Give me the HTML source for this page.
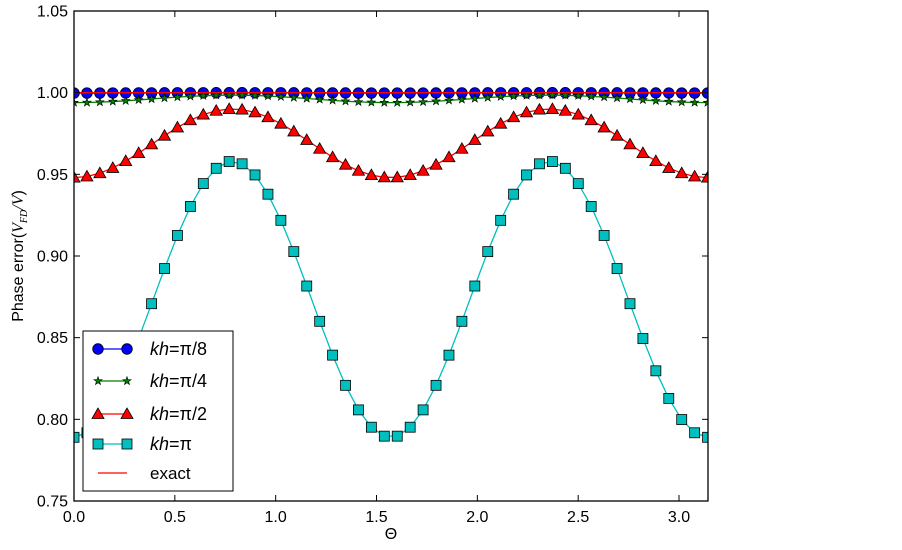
<!DOCTYPE html>
<html><head><meta charset="utf-8"><style>
body{margin:0;background:#fff;}
svg text{font-family:"Liberation Sans",sans-serif;}
</style></head><body>
<svg id="s" width="902" height="545" xmlns="http://www.w3.org/2000/svg"></svg>
<script>
const s=document.getElementById('s');
const L=74,R=708,T=11,B=501;
const X=t=>L+t*201.67, Y=v=>T+(1.05-v)*1633.3;
let h='';
const N=50;
function pts(mid,amp){let a=[];for(let i=0;i<N;i++){let t=Math.PI*i/(N-1);a.push([X(t),Y(mid-amp*Math.cos(4*t))]);}return a;}
const series=[
 {p:pts(0.99985,0.0001),c:'#0000ff',m:'o'},
 {p:pts(0.9962,0.0023),c:'#007f00',m:'*'},
 {p:pts(0.969,0.021),c:'#ff0000',m:'^'},
 {p:pts(0.8735,0.0845),c:'#00bfbf',m:'s'}];
function marker(x,y,m,c){
 if(m=='o')return `<circle cx="${x}" cy="${y}" r="5.3" fill="${c}" stroke="#000" stroke-width="0.8"/>`;
 if(m=='s')return `<rect x="${x-5}" y="${y-5}" width="10" height="10" fill="${c}" stroke="#000" stroke-width="0.8"/>`;
 if(m=='^')return `<polygon points="${x},${y-6} ${x-6},${y+4.5} ${x+6},${y+4.5}" fill="${c}" stroke="#000" stroke-width="0.8"/>`;
 let q=[];for(let k=0;k<10;k++){let r=k%2?1.7:4.3,a=-Math.PI/2+k*Math.PI/5;q.push((x+r*Math.cos(a)).toFixed(1)+','+(y+r*Math.sin(a)).toFixed(1));}
 return `<polygon points="${q.join(' ')}" fill="${c}" stroke="#000" stroke-width="0.6"/>`;
}
h+=`<defs><clipPath id="c"><rect x="${L}" y="${T}" width="${R-L}" height="${B-T}"/></clipPath></defs><g clip-path="url(#c)">`;
for(const sr of series){
 h+=`<polyline fill="none" stroke="${sr.c}" stroke-width="1.3" points="${sr.p.map(p=>p.join(',')).join(' ')}"/>`;
 for(const p of sr.p)h+=marker(p[0],p[1],sr.m,sr.c);
}
h+=`<line x1="${L}" x2="${R}" y1="${Y(1)}" y2="${Y(1)}" stroke="#ff0000" stroke-width="1.3"/>`;
h+='</g>';
h+=`<rect x="${L}" y="${T}" width="${R-L}" height="${B-T}" fill="none" stroke="#000" stroke-width="1.3"/>`;
for(let i=0;i<=6;i++){let v=0.75+i*0.05,y=Y(v);h+=`<line x1="${L}" x2="${L+6}" y1="${y}" y2="${y}" stroke="#000"/><line x1="${R}" x2="${R-6}" y1="${y}" y2="${y}" stroke="#000"/><text x="${L-6}" y="${y+5.5}" font-size="16" text-anchor="end">${v.toFixed(2)}</text>`;}
for(let i=0;i<=6;i++){let t=i*0.5,x=X(t);h+=`<line x1="${x}" x2="${x}" y1="${B}" y2="${B-6}" stroke="#000"/><line x1="${x}" x2="${x}" y1="${T}" y2="${T+6}" stroke="#000"/><text x="${x}" y="${B+21}" font-size="16" text-anchor="middle">${t.toFixed(1)}</text>`;}
h+=`<text x="${(L+R)/2}" y="539" font-size="16" text-anchor="middle">Θ</text>`;
h+=`<text transform="translate(23,256) rotate(-90)" font-size="16" text-anchor="middle">Phase error(<tspan font-family="Liberation Serif" font-style="italic">V<tspan font-size="10" dy="4">FD</tspan><tspan dy="-4">/V</tspan></tspan>)</text>`;
h+=`<rect x="83" y="331" width="150" height="160" fill="#fff" stroke="#000" stroke-width="1"/>`;
const lg=[[349,'#0000ff','o','π/8'],[381,'#007f00','*','π/4'],[414,'#ff0000','^','π/2'],[444,'#00bfbf','s','π']];
for(const [y,c,m,t] of lg){h+=`<line x1="98" x2="127" y1="${y}" y2="${y}" stroke="${c}" stroke-width="1.3"/>`+marker(98,y,m,c)+marker(127,y,m,c)+`<text x="150" y="${y+6}" font-size="18" font-family="Liberation Serif"><tspan font-style="italic">kh</tspan>=${t}</text>`;}
h+=`<line x1="98" x2="127" y1="473" y2="473" stroke="#ff0000" stroke-width="1.3"/><text x="150" y="479" font-size="17">exact</text>`;
s.innerHTML=h;
</script>
</body></html>
